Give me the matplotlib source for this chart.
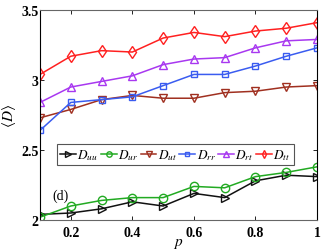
import matplotlib
matplotlib.use("Agg")
import matplotlib.pyplot as plt
from matplotlib.font_manager import FontProperties

p = [0.1, 0.2, 0.3, 0.4, 0.5, 0.6, 0.7, 0.8, 0.9, 1.0]
D_uu = [2.04, 2.05, 2.08, 2.13, 2.10, 2.19, 2.16, 2.28, 2.32, 2.31]
D_ur = [2.02, 2.10, 2.14, 2.16, 2.16, 2.24, 2.23, 2.31, 2.34, 2.38]
D_ut = [2.73, 2.79, 2.86, 2.89, 2.87, 2.87, 2.91, 2.92, 2.95, 2.96]
D_rr = [2.64, 2.84, 2.86, 2.88, 2.96, 3.04, 3.04, 3.10, 3.17, 3.23]
D_rt = [2.84, 2.95, 2.99, 3.03, 3.11, 3.15, 3.16, 3.23, 3.28, 3.29]
D_tt = [3.04, 3.17, 3.21, 3.20, 3.30, 3.34, 3.31, 3.35, 3.37, 3.41]

labels = [r"$D_{uu}$", r"$D_{ur}$", r"$D_{ut}$", r"$D_{rr}$", r"$D_{rt}$", r"$D_{tt}$"]
xticks = [0.2, 0.4, 0.6, 0.8, 1.0]
xticklabels = ["0.2", "0.4", "0.6", "0.8", "1"]
yticks = [2, 2.5, 3, 3.5]
yticklabels = ["2", "2.5", "3", "3.5"]

plt.rcParams["mathtext.fontset"] = "stix"
plt.rcParams["font.family"] = ["Liberation Serif", "DejaVu Serif"]

fig = plt.figure(figsize=(3.32, 2.51), dpi=100)
ax = fig.add_axes([0.1205, 0.1195, 0.8345, 0.8365])

series = [D_uu, D_ur, D_ut, D_rr, D_rt, D_tt]
colors = ["#111111", "#22aa22", "#a03020", "#3a5cf0", "#a838f0", "#ff2020"]
markers = [">", "o", "v", "s", "^", "d"]
sizes = [6, 6, 6, 5, 6, 6]
for y, c, m, s, lab in zip(series, colors, markers, sizes, labels):
    ax.plot(p, y, color=c, marker=m, markersize=s, markerfacecolor="none",
            markeredgecolor=c, markeredgewidth=1.0, linewidth=1.1, label=lab)

tickfont = FontProperties(family="Liberation Serif", weight="bold", size=10)
ax.set_xlim(0.1, 1.0)
ax.set_ylim(2, 3.5)
ax.set_xticks(xticks)
ax.set_xticklabels(xticklabels, fontproperties=tickfont)
ax.set_yticks(yticks)
ax.set_yticklabels(yticklabels, fontproperties=tickfont)
ax.tick_params(axis="y", direction="in", right=True, length=3, width=0.6, pad=1)
ax.tick_params(axis="x", direction="in", top=True, length=3, width=0.6, pad=4)
for side in ["top", "bottom"]:
    ax.spines[side].set_color("#666666")
for side in ["left", "right"]:
    ax.spines[side].set_color("black")
for sp in ax.spines.values():
    sp.set_linewidth(0.8)

ax.set_xlabel(r"$p$", fontsize=11, labelpad=-2)
ax.set_ylabel(r"$\langle D\rangle$", fontsize=11, labelpad=2)

ax.text(0.045, 0.10, "(d)", transform=ax.transAxes, fontsize=10)

leg = ax.legend(loc="upper left", bbox_to_anchor=(0.061, 0.362), ncol=6,
                fontsize=9.5, handlelength=1.2, handletextpad=0.1,
                columnspacing=0.2, borderpad=0.25, borderaxespad=0,
                fancybox=False, edgecolor="#555555", framealpha=1,
                markerscale=0.65)
leg.get_frame().set_linewidth(0.8)

fig.savefig("out.png", dpi=100)
